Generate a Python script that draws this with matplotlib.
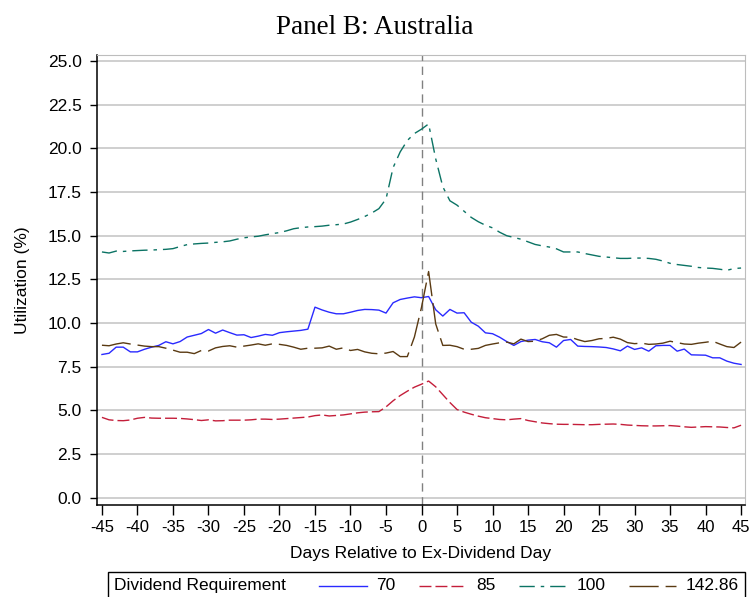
import numpy as np
import matplotlib
matplotlib.use("Agg")
from matplotlib import pyplot as plt
from matplotlib.lines import Line2D
from matplotlib.offsetbox import AnchoredOffsetbox, HPacker, TextArea, DrawingArea

plt.rcParams['font.family'] = ['Liberation Sans', 'DejaVu Sans']
plt.rcParams['lines.scale_dashes'] = False
plt.rcParams['axes.unicode_minus'] = False

# days relative to ex-dividend day
days = np.arange(-45, 46)

req_labels = ["70", "85", "100", "142.86"]

util_70 = [8.20, 8.27, 8.62, 8.62, 8.35, 8.35, 8.50, 8.62, 8.72, 8.93,
           8.81, 8.94, 9.20, 9.30, 9.40, 9.63, 9.42, 9.60, 9.45, 9.31,
           9.33, 9.17, 9.25, 9.35, 9.30, 9.45, 9.50, 9.54, 9.58, 9.65,
           10.91, 10.75, 10.62, 10.53, 10.53, 10.62, 10.72, 10.78, 10.77, 10.74,
           10.57, 11.16, 11.35, 11.43, 11.50, 11.45, 11.52, 10.76, 10.40, 10.78,
           10.57, 10.59, 10.05, 9.82, 9.44, 9.39, 9.19, 8.94, 8.72, 8.94,
           9.02, 9.06, 8.93, 8.87, 8.62, 9.00, 9.06, 8.68, 8.66, 8.65,
           8.63, 8.60, 8.52, 8.41, 8.68, 8.49, 8.58, 8.39, 8.70, 8.72,
           8.72, 8.39, 8.51, 8.18, 8.17, 8.16, 8.01, 8.01, 7.82, 7.70, 7.63]

util_85 = [4.60, 4.46, 4.42, 4.41, 4.45, 4.55, 4.60, 4.56, 4.55, 4.55,
           4.55, 4.54, 4.51, 4.47, 4.42, 4.46, 4.40, 4.41, 4.44, 4.44,
           4.44, 4.46, 4.50, 4.50, 4.48, 4.50, 4.53, 4.56, 4.59, 4.62,
           4.70, 4.74, 4.68, 4.71, 4.74, 4.80, 4.86, 4.90, 4.92, 4.93,
           5.20, 5.55, 5.85, 6.10, 6.33, 6.50, 6.68, 6.35, 5.90, 5.45,
           5.05, 4.90, 4.78, 4.67, 4.58, 4.53, 4.48, 4.46, 4.50, 4.53,
           4.42, 4.35, 4.28, 4.24, 4.21, 4.20, 4.20, 4.19, 4.18, 4.18,
           4.20, 4.21, 4.22, 4.20, 4.16, 4.14, 4.12, 4.11, 4.11, 4.12,
           4.13, 4.10, 4.06, 4.03, 4.05, 4.07, 4.06, 4.05, 4.02, 4.00, 4.15]

util_100 = [14.07, 14.01, 14.12, 14.10, 14.13, 14.15, 14.17, 14.18, 14.20, 14.22,
            14.26, 14.38, 14.49, 14.53, 14.56, 14.58, 14.62, 14.65, 14.70, 14.80,
            14.88, 14.93, 14.97, 15.05, 15.12, 15.18, 15.28, 15.40, 15.46, 15.50,
            15.52, 15.55, 15.60, 15.63, 15.67, 15.78, 15.93, 16.10, 16.30, 16.55,
            17.10, 18.90, 19.80, 20.45, 20.85, 21.10, 21.40, 19.40, 17.80, 17.00,
            16.75, 16.40, 16.05, 15.80, 15.60, 15.45, 15.20, 15.00, 14.90, 14.80,
            14.65, 14.50, 14.42, 14.35, 14.25, 14.07, 14.07, 14.07, 13.98, 13.90,
            13.82, 13.78, 13.74, 13.70, 13.70, 13.72, 13.72, 13.70, 13.65, 13.55,
            13.42, 13.35, 13.30, 13.25, 13.18, 13.15, 13.13, 13.08, 13.02, 13.12, 13.15]

util_142 = [8.73, 8.70, 8.80, 8.87, 8.80, 8.74, 8.68, 8.65, 8.65, 8.56,
            8.45, 8.33, 8.33, 8.25, 8.43, 8.40, 8.58, 8.66, 8.70, 8.62,
            8.68, 8.74, 8.81, 8.73, 8.81, 8.78, 8.72, 8.62, 8.50, 8.56,
            8.56, 8.58, 8.68, 8.50, 8.58, 8.43, 8.49, 8.35, 8.27, 8.24,
            8.28, 8.37, 8.08, 8.08, 9.20, 10.90, 12.95, 9.95, 8.72, 8.73,
            8.65, 8.50, 8.50, 8.55, 8.72, 8.80, 8.87, 8.91, 8.81, 9.08,
            8.94, 8.96, 9.10, 9.30, 9.35, 9.20, 9.19, 9.05, 8.94, 9.00,
            9.10, 9.12, 9.19, 9.08, 8.88, 8.82, 8.85, 8.78, 8.80, 8.85,
            8.96, 8.88, 8.80, 8.78, 8.85, 8.90, 8.96, 8.80, 8.65, 8.60, 8.91]

series = [util_70, util_85, util_100, util_142]
colors = ["#2a2aff", "#c41e3a", "#0b7364", "#5a3a12"]
styles = ["-", (0, (8.6, 2.9)), (0, (11, 4.3, 2.5, 4.3)), (0, (21, 5))]

fig = plt.figure(figsize=(7.5, 5.97), dpi=100)
ax = fig.add_axes([0.1293, 0.154, 0.864, 0.754])

for y, c, ls in zip(series, colors, styles):
    ax.plot(days, y, color=c, linestyle=ls, linewidth=1.0)

ax.axvline(0, color="#808080", linestyle=(0, (6, 4)), linewidth=1.0, zorder=1)

ax.set_xlim(-45.7, 45.55)
ax.set_ylim(-0.42, 25.35)
ax.set_xticks(np.arange(-45, 46, 5))
ax.set_yticks(np.arange(0, 25.1, 2.5))
ax.set_yticklabels(["%.1f" % v for v in np.arange(0, 25.1, 2.5)])
ax.grid(axis="y", color="#cfcfcf", linewidth=1.4)
ax.set_axisbelow(True)

ax.tick_params(axis="y", length=5, width=1, pad=6, labelsize=12.5)
ax.tick_params(axis="x", length=7, width=1, pad=4, labelsize=12)
for s in ["left", "bottom"]:
    ax.spines[s].set_color("black")
    ax.spines[s].set_linewidth(1.1)
for s in ["top", "right"]:
    ax.spines[s].set_color("#bdbdbd")
    ax.spines[s].set_linewidth(0.8)

ax.set_xlabel("Days Relative to Ex-Dividend Day", fontsize=12.5, labelpad=8)
ax.set_ylabel("Utilization (%)", fontsize=12.5, labelpad=13)
fig.suptitle("Panel B: Australia", family="Liberation Serif", fontsize=19.5, y=0.975)

# legend row, Stata style: title text followed by line samples
fs = 12.5
items = [TextArea("Dividend Requirement", textprops=dict(fontsize=fs))]
items.append(DrawingArea(24, 1))
for lab, c, ls in zip(req_labels, colors, styles):
    da = DrawingArea(34, 8)
    da.add_artist(Line2D([0, 34], [4, 4], color=c, linestyle=ls, linewidth=1.0))
    items.append(da)
    items.append(DrawingArea(7, 1))
    items.append(TextArea(lab, textprops=dict(fontsize=fs)))
    if lab != req_labels[-1]:
        items.append(DrawingArea(17, 1))
row = HPacker(children=items, pad=0, sep=0, align="center")
leg = AnchoredOffsetbox(loc="upper left", child=row, pad=0.45, borderpad=0,
                        frameon=True, bbox_to_anchor=(108 / 750, 1 - 572 / 597),
                        bbox_transform=fig.transFigure)
leg.patch.set_edgecolor("black")
leg.patch.set_linewidth(1.0)
leg.patch.set_boxstyle("square", pad=0)
fig.add_artist(leg)

plt.savefig("out.png", dpi=100)
